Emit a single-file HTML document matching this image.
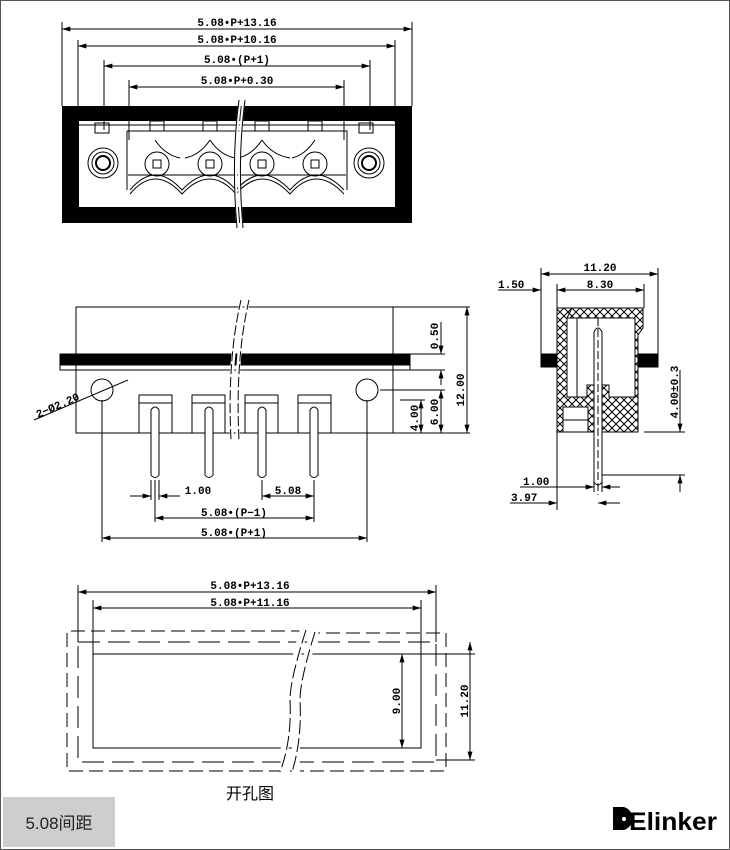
<!DOCTYPE html>
<html><head><meta charset="utf-8"><style>
html,body{margin:0;padding:0;background:#fff;}
svg{display:block;}
text{font-family:"Liberation Sans","Noto Sans CJK SC",sans-serif;}
.d{font-family:"Liberation Mono",monospace;font-weight:bold;font-size:11px;}
</style></head><body>
<svg width="730" height="850" viewBox="0 0 730 850" xmlns="http://www.w3.org/2000/svg">
<defs>
<pattern id="h" width="8" height="8" patternUnits="userSpaceOnUse">
<path d="M0,0L8,8M8,0L0,8" stroke="#000" stroke-width="1"/>
</pattern>
<marker id="a" viewBox="0 0 10 6" refX="10" refY="3" markerWidth="9" markerHeight="5" orient="auto-start-reverse"><path d="M0,0L10,3L0,6z" fill="#000"/></marker>
</defs>
<rect x="0.5" y="0.5" width="729" height="849" fill="#fff" stroke="#555"/>

<!-- TOP VIEW -->
<g stroke="#000" stroke-width="1" fill="none">
<line x1="62" y1="22" x2="62" y2="106"/><line x1="412" y1="22" x2="412" y2="106"/>
<line x1="78" y1="40" x2="78" y2="122"/><line x1="395" y1="40" x2="395" y2="122"/>
<line x1="104" y1="60" x2="104" y2="130"/><line x1="370" y1="60" x2="370" y2="130"/>
<line x1="129" y1="80" x2="129" y2="140"/><line x1="344" y1="80" x2="344" y2="140"/>
<line x1="62" y1="29" x2="412" y2="29" marker-start="url(#a)" marker-end="url(#a)"/>
<line x1="78" y1="46" x2="395" y2="46" marker-start="url(#a)" marker-end="url(#a)"/>
<line x1="104" y1="66" x2="370" y2="66" marker-start="url(#a)" marker-end="url(#a)"/>
<line x1="129" y1="87" x2="344" y2="87" marker-start="url(#a)" marker-end="url(#a)"/>
</g>
<text class="d" x="237" y="26" text-anchor="middle">5.08•P+13.16</text>
<text class="d" x="237" y="43" text-anchor="middle">5.08•P+10.16</text>
<text class="d" x="237" y="63" text-anchor="middle">5.08•(P+1)</text>
<text class="d" x="237" y="84" text-anchor="middle">5.08•P+0.30</text>
<path d="M62,106H412V223H62Z M79,121V207H395V121Z" fill="#000" fill-rule="evenodd"/>
<g stroke="#000" stroke-width="1" fill="none">
<path d="M79,125H395"/>
<rect x="95" y="123" width="14" height="10"/><rect x="359" y="123" width="14" height="10"/>
<path d="M127,131H347V190"/><path d="M127,131V190"/>
<path d="M130,190 Q155,160 182,190 Q210,160 236,190 Q262,160 290,190 Q316,160 344,190"/>
<path d="M130,194 Q155,164 182,194 Q210,164 236,194 Q262,164 290,194 Q316,164 344,194"/>
<path d="M128,175H346"/>
<circle cx="103" cy="163" r="15"/><circle cx="103" cy="163" r="11"/><circle cx="103" cy="163" r="7" stroke-width="2"/>
<circle cx="369" cy="163" r="15"/><circle cx="369" cy="163" r="11"/><circle cx="369" cy="163" r="7" stroke-width="2"/>
<g>
<circle cx="157" cy="164" r="12"/><rect x="153" y="160" width="8" height="8"/>
<circle cx="210" cy="164" r="12"/><rect x="206" y="160" width="8" height="8"/>
<circle cx="262" cy="164" r="12"/><rect x="258" y="160" width="8" height="8"/>
<circle cx="315" cy="164" r="12"/><rect x="311" y="160" width="8" height="8"/>
</g>
<rect x="150" y="121" width="14" height="10"/><rect x="203" y="121" width="14" height="10"/>
<rect x="255" y="121" width="14" height="10"/><rect x="308" y="121" width="14" height="10"/>
<path d="M155,140 Q165,155 180,158 M210,140 Q200,155 185,158 M210,140 Q220,155 235,158 M262,140 Q252,155 238,158 M262,140 Q272,155 290,158 M315,140 Q305,155 292,158"/>
</g>
<path d="M240,100 Q232,160 238,228 M244,100 Q236,160 242,228" stroke="#fff" stroke-width="3" fill="none"/>
<path d="M239,100 Q231,160 237,228 M245,100 Q237,160 243,228" stroke="#000" stroke-width="1" fill="none"/>

<!-- FRONT VIEW -->
<g stroke="#000" stroke-width="1" fill="none">
<rect x="76" y="307" width="317" height="126" fill="#fff"/>
<rect x="60" y="354" width="350" height="11" fill="#000"/>
<rect x="60" y="365" width="350" height="5"/>
<circle cx="102" cy="390" r="11"/><circle cx="367" cy="390" r="11"/>
<rect x="139" y="395" width="33" height="38"/><rect x="192" y="395" width="33" height="38"/>
<rect x="245" y="395" width="33" height="38"/><rect x="298" y="395" width="33" height="38"/>
<path d="M139,403H172M192,403H225M245,403H278M298,403H331"/>
<path d="M151,475V410Q155,404 159,410V475Q155,480 151,475Z" fill="#fff"/>
<path d="M205,475V410Q209,404 213,410V475Q209,480 205,475Z" fill="#fff"/>
<path d="M258,475V410Q262,404 266,410V475Q262,480 258,475Z" fill="#fff"/>
<path d="M310,475V410Q314,404 318,410V475Q314,480 310,475Z" fill="#fff"/>
<path d="M393,307H470M393,433H470M400,400H425M380,390H445M410,354H445M410,370H445"/>
<line x1="467" y1="307" x2="467" y2="433" marker-start="url(#a)" marker-end="url(#a)"/>
<line x1="441" y1="390" x2="441" y2="433" marker-start="url(#a)" marker-end="url(#a)"/>
<line x1="421" y1="400" x2="421" y2="433" marker-start="url(#a)" marker-end="url(#a)"/>
<line x1="441" y1="322" x2="441" y2="354" marker-end="url(#a)"/>
<line x1="441" y1="385" x2="441" y2="370" marker-end="url(#a)"/>
<path d="M151,480V500M159,480V500M262,480V500M314,480V522M155,480V522M102,400V542M367,400V542"/>
<line x1="130" y1="496" x2="151" y2="496" marker-end="url(#a)"/>
<line x1="180" y1="496" x2="159" y2="496" marker-end="url(#a)"/>
<line x1="262" y1="496" x2="314" y2="496" marker-start="url(#a)" marker-end="url(#a)"/>
<line x1="155" y1="518" x2="314" y2="518" marker-start="url(#a)" marker-end="url(#a)"/>
<line x1="102" y1="538" x2="367" y2="538" marker-start="url(#a)" marker-end="url(#a)"/>
<line x1="34" y1="420" x2="128" y2="380"/>
</g>
<path d="M242,300 Q228,360 232,440 M248,300 Q234,360 238,440" stroke="#fff" stroke-width="4" fill="none"/>
<path d="M241,300 Q227,360 231,440 M249,300 Q235,360 239,440" stroke="#000" stroke-width="1" fill="none" stroke-dasharray="10,3"/>
<text class="d" x="198" y="494" text-anchor="middle">1.00</text>
<text class="d" x="288" y="494" text-anchor="middle">5.08</text>
<text class="d" x="234" y="516" text-anchor="middle">5.08•(P−1)</text>
<text class="d" x="234" y="536" text-anchor="middle">5.08•(P+1)</text>
<text class="d" transform="translate(38,418) rotate(-24)">2−Ø2.20</text>
<text class="d" transform="translate(464,390) rotate(-90)" text-anchor="middle">12.00</text>
<text class="d" transform="translate(438,412) rotate(-90)" text-anchor="middle">6.00</text>
<text class="d" transform="translate(418,418) rotate(-90)" text-anchor="middle">4.00</text>
<text class="d" transform="translate(438,336) rotate(-90)" text-anchor="middle">0.50</text>

<!-- SIDE VIEW -->
<g stroke="#000" stroke-width="1" fill="none">
<path d="M541,268V360M658,268V360M557,284V308M644,284V308"/>
<line x1="541" y1="274" x2="658" y2="274" marker-start="url(#a)" marker-end="url(#a)"/>
<line x1="557" y1="290" x2="644" y2="290" marker-start="url(#a)" marker-end="url(#a)"/>
<line x1="498" y1="290" x2="541" y2="290" marker-end="url(#a)"/>
<path d="M557,308H643V328L638,335V432H557Z" fill="url(#h)"/>
<path d="M567,318H635V397H609V385H587V397H567Z" fill="#fff"/>
<path d="M567,318L572,308M577,318V397"/>
<path d="M563,407H588V432H563Z M563,420H588" fill="#fff"/>
<rect x="541" y="354" width="16" height="13" fill="#000"/>
<rect x="638" y="354" width="20" height="13" fill="#000"/>
<path d="M594,482V332Q598,324 602,332V482Q598,488 594,482Z" fill="#fff"/>
<line x1="598" y1="318" x2="598" y2="495" stroke-dasharray="8,3"/>
<path d="M644,432H685M602,475H685M557,432V510M594,480V492M602,480V492"/>
<line x1="680" y1="370" x2="680" y2="432" marker-end="url(#a)"/>
<line x1="680" y1="492" x2="680" y2="475" marker-end="url(#a)"/>
<line x1="520" y1="487" x2="594" y2="487" marker-end="url(#a)"/>
<line x1="620" y1="487" x2="602" y2="487" marker-end="url(#a)"/>
<line x1="510" y1="503" x2="557" y2="503" marker-end="url(#a)"/>
<line x1="620" y1="503" x2="598" y2="503" marker-end="url(#a)"/>
</g>
<text class="d" x="600" y="271" text-anchor="middle">11.20</text>
<text class="d" x="600" y="288" text-anchor="middle">8.30</text>
<text class="d" x="498" y="288">1.50</text>
<text class="d" x="523" y="485">1.00</text>
<text class="d" x="511" y="501">3.97</text>
<text class="d" transform="translate(678,392) rotate(-90)" text-anchor="middle" font-size="10">4.00±0.3</text>

<!-- CUTOUT -->
<g stroke="#000" stroke-width="1" fill="none">
<path d="M78,585V642M436,585V642M93,600V654M421,600V654M421,654H475M421,748H410M436,760H475"/>
<line x1="78" y1="592" x2="436" y2="592" marker-start="url(#a)" marker-end="url(#a)"/>
<line x1="93" y1="608" x2="421" y2="608" marker-start="url(#a)" marker-end="url(#a)"/>
<line x1="402" y1="654" x2="402" y2="748" marker-start="url(#a)" marker-end="url(#a)"/>
<line x1="470" y1="642" x2="470" y2="760" marker-start="url(#a)" marker-end="url(#a)"/>
<path d="M305,631H67V771H280 M290,771H446V633H314" stroke-dasharray="14,6"/>
<path d="M78,642H436V762H78Z" stroke-dasharray="22,8"/>
<rect x="93" y="654" width="328" height="94"/>
</g>
<path d="M304,630 Q282,700 285,772 M315,630 Q293,700 296,772" stroke="#fff" stroke-width="8" fill="none"/>
<path d="M306,630 Q290,680 290,700 Q292,740 280,772 M315,632 Q300,680 300,700 Q302,740 292,772" stroke="#000" fill="none" stroke-dasharray="14,4"/>
<text class="d" x="250" y="589" text-anchor="middle">5.08•P+13.16</text>
<text class="d" x="250" y="606" text-anchor="middle">5.08•P+11.16</text>
<text class="d" transform="translate(400,701) rotate(-90)" text-anchor="middle">9.00</text>
<text class="d" transform="translate(468,701) rotate(-90)" text-anchor="middle">11.20</text>
<text x="250" y="799" text-anchor="middle" font-size="16">开孔图</text>

<rect x="3" y="797" width="112" height="50" fill="#cecece"/>
<text x="59" y="829" text-anchor="middle" font-size="17" fill="#222">5.08间距</text>
<path d="M613,807H624A12,12 0 0 1 624,830H613Z" fill="#000"/>
<circle cx="624" cy="819" r="2" fill="#fff"/>
<text x="629" y="830" font-size="25" font-weight="bold" font-family="Liberation Sans Narrow,Liberation Sans,sans-serif" textLength="88" lengthAdjust="spacingAndGlyphs">Elinker</text>
</svg>
</body></html>
